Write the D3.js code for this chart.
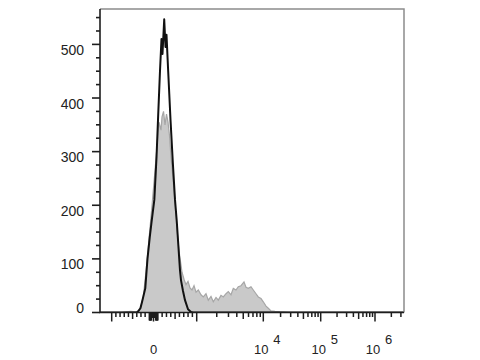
<!DOCTYPE html>
<html>
<head>
<meta charset="utf-8" />
<script src="https://cdn.jsdelivr.net/npm/d3@7"></script>
<style>
  body { margin: 0; background: #fff; }
  svg { display: block; font-family: "Liberation Sans", Arial, sans-serif; }
</style>
</head>
<body>
<svg id="chart" width="480" height="360"></svg>
<script>

// stained sample, grey filled histogram (intensity, count)
const stainX = [-1900, -775, -660, -544, -428, -359, -313, -243, -174, -104, -35, 35, 81, 127, 174, 197, 232,
  266, 301, 336, 370, 405, 451, 498, 544, 590, 625, 660, 706, 752, 799, 845, 891, 938, 984,
  1057, 1160, 1256, 1379, 1493, 1640, 1775, 1950, 2110, 2317, 2508, 2754, 2982, 3273, 3544,
  3890, 4213, 4625, 5130, 5500, 5955, 6535, 7075, 7770, 8410, 9235, 10000, 11150, 12220,
  13620, 15990, 19540, 29190, 3400000]
const stainCount = [0, 0, 1, 2, 1, 3, 8, 30, 80, 140, 200, 265, 310, 355, 340, 365, 375,
  350, 370, 355, 330, 290, 250, 205, 155, 115, 95, 75, 62, 52, 58, 46, 42, 50, 38,
  42, 33, 29, 35, 23, 30, 20, 28, 23, 32, 29, 35, 39, 33, 45,
  42, 48, 50, 57, 47, 45, 48, 42, 35, 29, 26, 20, 12, 8,
  3, 2, 1, 0, 0]

// unstained control, black line
const ctrlX = [-1900, -400, -359, -313, -273, -197, -144, -90, -42, 19, 70, 104, 150, 185, 208, 248,
  278, 301, 340, 394, 447, 498, 537, 613, 637, 683, 729, 799, 868, 914, 3400000]
const ctrlCount = [0, 0, 3, 8, 20, 45, 100, 140, 172, 210, 290, 359, 450, 510, 482, 547,
  495, 518, 450, 359, 280, 210, 172, 79, 60, 40, 23, 6, 1, 0, 0]

const yTickValues = [0, 100, 200, 300, 400, 500]
const xLabelValues = [0, 1e4, 1e5, 1e6]
const xLabelBase = ['0', '10', '10', '10']
const xLabelExp = ['', '4', '5', '6']

const box = {left: 100, right: 404, top: 9, bottom: 312.5}
const svg = d3.select('#chart')

// linear between -1000 and 1000, log decades outside (biexponential look)
function decades(v){
  const a = Math.abs(v)
  if (a <= 1000) return v / 1000
  return Math.sign(v) * (1 + Math.log10(a / 1000))
}
const xDec = d3.scaleLinear()
  .domain([-1, 0, 1, 2, 3, 4])
  .range([111.7, 153.5, 196.7, 263.3, 320.7, 375])
const x = v => xDec(decades(v))
const y = d3.scaleLinear().domain([0, 566]).range([box.bottom, box.top])

svg.append('clipPath').attr('id', 'plotClip')
  .append('rect')
  .attr('x', box.left).attr('y', box.top)
  .attr('width', box.right - box.left).attr('height', box.bottom - box.top)

const stain = stainX.map((v, i) => ({v: v, c: stainCount[i]}))
const ctrl = ctrlX.map((v, i) => ({v: v, c: ctrlCount[i]}))

const plot = svg.append('g').attr('clip-path', 'url(#plotClip)')

plot.append('path')
  .attr('d', d3.area().x(d => x(d.v)).y0(y(0)).y1(d => y(d.c))(stain))
  .attr('fill', '#c9c9c9')
plot.append('path')
  .attr('d', d3.line().x(d => x(d.v)).y(d => y(d.c))(stain))
  .attr('fill', 'none')
  .attr('stroke', '#a6a6a6')
  .attr('stroke-width', 1.2)

plot.append('path')
  .attr('d', d3.line().x(d => x(d.v)).y(d => y(d.c))(ctrl))
  .attr('fill', 'none')
  .attr('stroke', '#111')
  .attr('stroke-width', 2)
  .attr('stroke-linejoin', 'round')

// frame: grey top/right, dark axes
svg.append('path')
  .attr('d', `M${box.left},${box.top}H${box.right}V${box.bottom}`)
  .attr('fill', 'none').attr('stroke', '#8c8c8c').attr('stroke-width', 1.5)
svg.append('path')
  .attr('d', `M${box.left},${box.top}V${box.bottom}H${box.right}`)
  .attr('fill', 'none').attr('stroke', '#1e1e1e').attr('stroke-width', 1.6)

// y ticks
const yMinor = d3.range(25, 551, 25).filter(v => v % 100 != 0)
svg.append('g').selectAll('line')
  .data(yTickValues.map(v => ({v: v, len: 8})).concat(yMinor.map(v => ({v: v, len: 4}))))
  .join('line')
  .attr('x1', box.left).attr('x2', d => box.left - d.len)
  .attr('y1', d => y(d.v)).attr('y2', d => y(d.v))
  .attr('stroke', '#1e1e1e').attr('stroke-width', 1.6)

svg.append('g').selectAll('text')
  .data(yTickValues)
  .join('text')
  .attr('x', 84)
  .attr('y', d => d == 0 ? y(d) : y(d) + 10.5)
  .attr('text-anchor', 'end')
  .attr('font-size', 14)
  .attr('fill', '#222')
  .text(d => d)

// x ticks
const xTicks = [-1000, 0, 1000, 1e4, 1e5, 1e6].map(v => ({v: v, len: 9}))
for (let k = 2; k <= 9; k++) {
  const len = k == 5 ? 6.5 : 4.5
  ;[k * 100, -k * 100, k * 1e3, k * 1e4, k * 1e5].forEach(v => xTicks.push({v: v, len: len}))
}
xTicks.push({v: 2e6, len: 4.5}, {v: 3e6, len: 4.5})
for (let k = 1; k <= 10; k++) {
  const len = k >= 5 ? 8 : 5.5
  xTicks.push({v: k * 10, len: len}, {v: -k * 10, len: len})
}
svg.append('g').selectAll('line')
  .data(xTicks)
  .join('line')
  .attr('x1', d => x(d.v)).attr('x2', d => x(d.v))
  .attr('y1', box.bottom).attr('y2', d => box.bottom + d.len)
  .attr('stroke', '#1e1e1e').attr('stroke-width', 1.5)

const xLab = svg.append('g').attr('font-size', 13).attr('fill', '#222')
xLabelValues.forEach((v, i) => {
  const cx = v == 0 ? x(v) : x(v) - 2
  xLab.append('text')
    .attr('x', cx).attr('y', 354)
    .attr('text-anchor', 'middle')
    .text(xLabelBase[i])
  if (xLabelExp[i]) {
    xLab.append('text')
      .attr('x', cx + 12).attr('y', 344)
      .text(xLabelExp[i])
  }
})

</script>
</body>
</html>
